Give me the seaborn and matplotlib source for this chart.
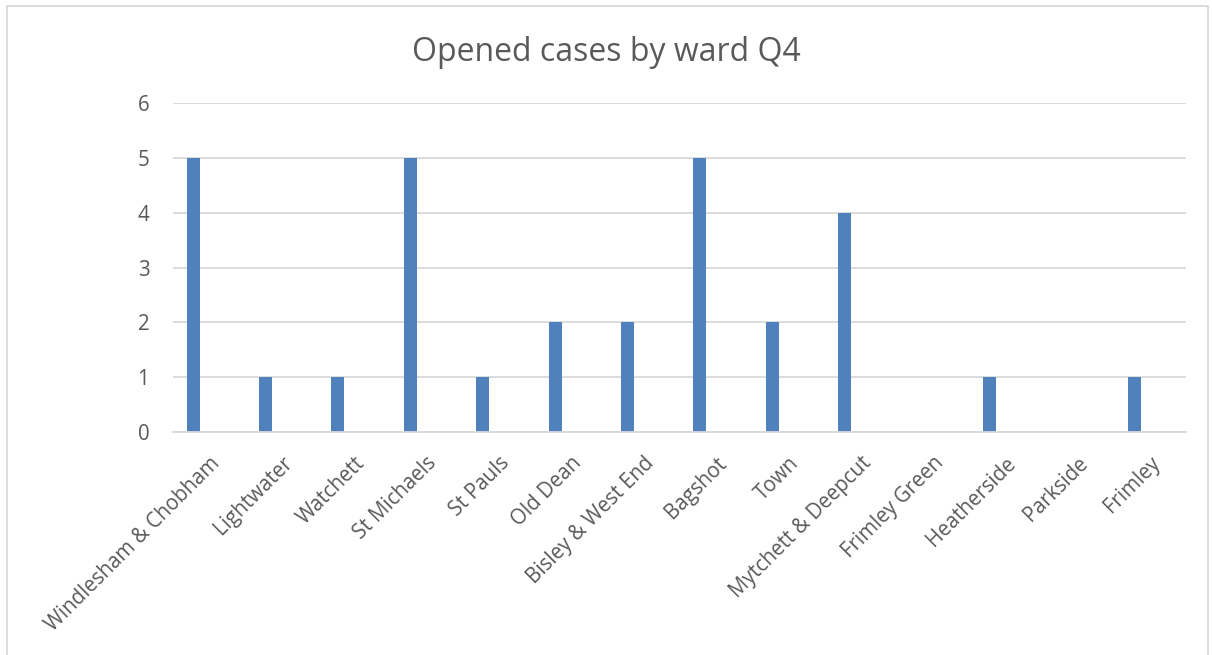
import matplotlib
matplotlib.use("Agg")
import matplotlib.pyplot as plt
import seaborn as sns
import pandas as pd
from matplotlib.patches import Rectangle

wards = ['Windlesham & Chobham', 'Lightwater', 'Watchett', 'St Michaels', 'St Pauls',
         'Old Dean', 'Bisley & West End', 'Bagshot', 'Town', 'Mytchett & Deepcut',
         'Frimley Green', 'Heatherside', 'Parkside', 'Frimley']
cases = [5, 1, 1, 5, 1, 2, 2, 5, 2, 4, 0, 1, 0, 1]
y_ticks = [0, 1, 2, 3, 4, 5, 6]

df = pd.DataFrame({'Ward': wards, 'Cases': cases})

sns.set_theme(style='white')
plt.rcParams['font.family'] = ['Open Sans', 'DejaVu Sans']
text_col = '#595959'
grid_col = '#d9d9d9'

fig = plt.figure(figsize=(12.12, 6.55), dpi=100)
ax = fig.add_axes([0.1427, 0.3405, 0.836, 0.502])

sns.barplot(data=df, x='Ward', y='Cases', color='#4f81bd', width=0.18,
            saturation=1, linewidth=0, ax=ax)
# Excel-style cluster offset: bars sit left of the category centre
for p in ax.patches:
    p.set_x(p.get_x() - 0.22)

ax.set_xlim(-0.5, len(wards) - 0.5)
ax.set_ylim(0, 6)
ax.set_yticks(y_ticks)
ax.yaxis.grid(True, color=grid_col, linewidth=1.3)
ax.set_axisbelow(True)
for s in ['top', 'right', 'left']:
    ax.spines[s].set_visible(False)
ax.spines['bottom'].set_color(grid_col)
ax.spines['bottom'].set_linewidth(1.3)
ax.tick_params(axis='both', length=0, colors=text_col, labelsize=14.8)
ax.tick_params(axis='y', pad=17)
ax.tick_params(axis='x', pad=15)
plt.setp(ax.get_xticklabels(), rotation=45, ha='right', rotation_mode='anchor')
ax.set_xlabel('')
ax.set_ylabel('')

fig.text(0.5, 0.92, 'Opened cases by ward Q4', ha='center', va='center',
         fontsize=23, color=text_col)

fig.patches.append(Rectangle((0.006, -0.02), 0.991, 1.0108, transform=fig.transFigure,
                             fill=False, edgecolor='#d9d9d9', linewidth=1.3))

fig.savefig('out.png', dpi=100)
